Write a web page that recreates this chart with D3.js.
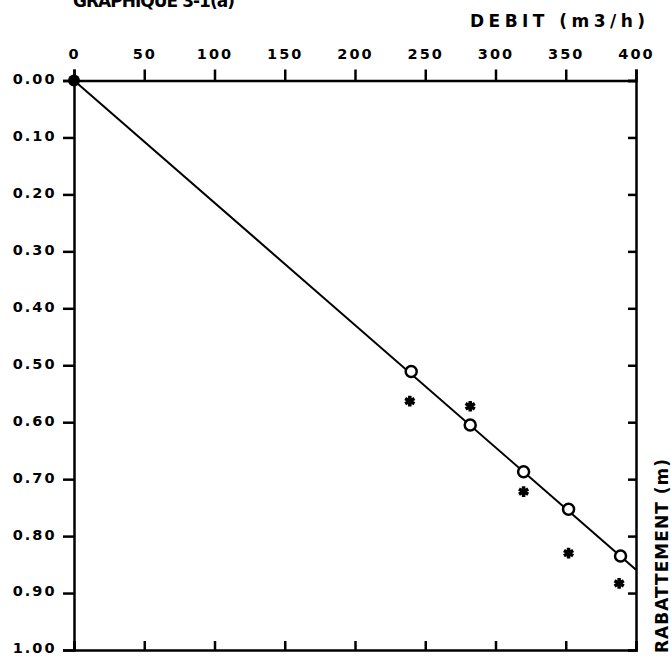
<!DOCTYPE html>
<html>
<head>
<meta charset="utf-8">
<script src="https://cdn.jsdelivr.net/npm/d3@7"></script>
<style>
  body { margin: 0; background: #fff; }
  svg text { font-family: "DejaVu Sans", sans-serif; font-weight: bold; fill: #000; }
</style>
</head>
<body>
<svg id="chart" width="671" height="656"></svg>
<script>
// données
const debitTicks = [0, 50, 100, 150, 200, 250, 300, 350, 400];
const rabTicks = [0, 0.1, 0.2, 0.3, 0.4, 0.5, 0.6, 0.7, 0.8, 0.9, 1.0];

// points sur la droite (cercles)
const ptsDebit = [240, 282, 320, 352, 389];
const ptsRab   = [0.511, 0.605, 0.687, 0.753, 0.835];

// points mesurés (étoiles)
const mesDebit = [239, 282, 320, 352, 388];
const mesRab   = [0.563, 0.572, 0.722, 0.830, 0.883];

// droite ajustée
const fitDebit = [0, 400];
const fitRab   = [0, 0.859];

const svg = d3.select("#chart");
const x = d3.scaleLinear().domain([0, 400]).range([74, 636]);
const y = d3.scaleLinear().domain([0, 1]).range([80.5, 650]);

// titre (coupé en haut, comme sur l'original)
svg.append("text")
  .attr("x", 73).attr("y", 7)
  .attr("font-size", 17)
  .attr("textLength", 162).attr("lengthAdjust", "spacing")
  .text("GRAPHIQUE 3-1(a)");

svg.append("text")
  .attr("x", 470).attr("y", 27)
  .attr("font-size", 17)
  .attr("font-weight", "normal")
  .style("font-weight", 600)
  .attr("textLength", 175).attr("lengthAdjust", "spacing")
  .text("DEBIT (m3/h)");

// axe du haut
const gTop = svg.append("g").attr("transform", `translate(0,${y(0)})`)
  .call(d3.axisTop(x).tickValues(debitTicks).tickSize(11).tickPadding(11).tickFormat(d3.format("d")));
// axe de gauche
const gLeft = svg.append("g").attr("transform", `translate(${x(0)},0)`)
  .call(d3.axisLeft(y).tickValues(rabTicks).tickSize(11).tickPadding(6.5).tickFormat(d3.format(".2f")));
// axe du bas (ticks vers l'intérieur)
const gBottom = svg.append("g").attr("transform", `translate(0,${y(1)})`)
  .call(d3.axisBottom(x).tickValues(debitTicks).tickSize(-9).tickFormat(""));
// axe de droite (ticks vers l'intérieur)
const gRight = svg.append("g").attr("transform", `translate(${x(400)},0)`)
  .call(d3.axisRight(y).tickValues(rabTicks).tickSize(-8).tickFormat(""));

[gTop, gLeft, gBottom, gRight].forEach(g => {
  g.select(".domain").attr("stroke", "#000").attr("stroke-width", 2.5);
  g.selectAll(".tick line").attr("stroke", "#000").attr("stroke-width", 2.5);
  g.selectAll(".tick text").attr("font-size", 14.5).attr("fill", "#000")
    .attr("letter-spacing", 2)
    .style("font-family", "'DejaVu Sans', sans-serif").style("font-weight", "bold");
});
gLeft.selectAll(".tick text").attr("dy", "0.2em");

// libellé axe vertical
svg.append("text")
  .attr("transform", `translate(668,653) rotate(-90)`)
  .attr("font-size", 17)
  .attr("textLength", 194).attr("lengthAdjust", "spacing")
  .text("RABATTEMENT (m)");

// droite
const line = d3.line().x(d => x(d[0])).y(d => y(d[1]));
svg.append("path")
  .datum(d3.zip(fitDebit, fitRab))
  .attr("d", line)
  .attr("fill", "none").attr("stroke", "#000").attr("stroke-width", 2);

// origine
svg.append("circle")
  .attr("cx", x(0)).attr("cy", y(0)).attr("r", 6).attr("fill", "#000");

// cercles
svg.append("g").selectAll("circle")
  .data(d3.zip(ptsDebit, ptsRab))
  .join("circle")
  .attr("cx", d => x(d[0])).attr("cy", d => y(d[1]))
  .attr("r", 5.5).attr("fill", "#fff").attr("stroke", "#000").attr("stroke-width", 2.5);

// étoiles
const star = d3.symbol().type(d3.symbolAsterisk).size(80);
svg.append("g").selectAll("path")
  .data(d3.zip(mesDebit, mesRab))
  .join("path")
  .attr("transform", d => `translate(${x(d[0])},${y(d[1])})`)
  .attr("d", star)
  .attr("fill", "none").attr("stroke", "#000").attr("stroke-width", 3.5);
</script>
</body>
</html>
